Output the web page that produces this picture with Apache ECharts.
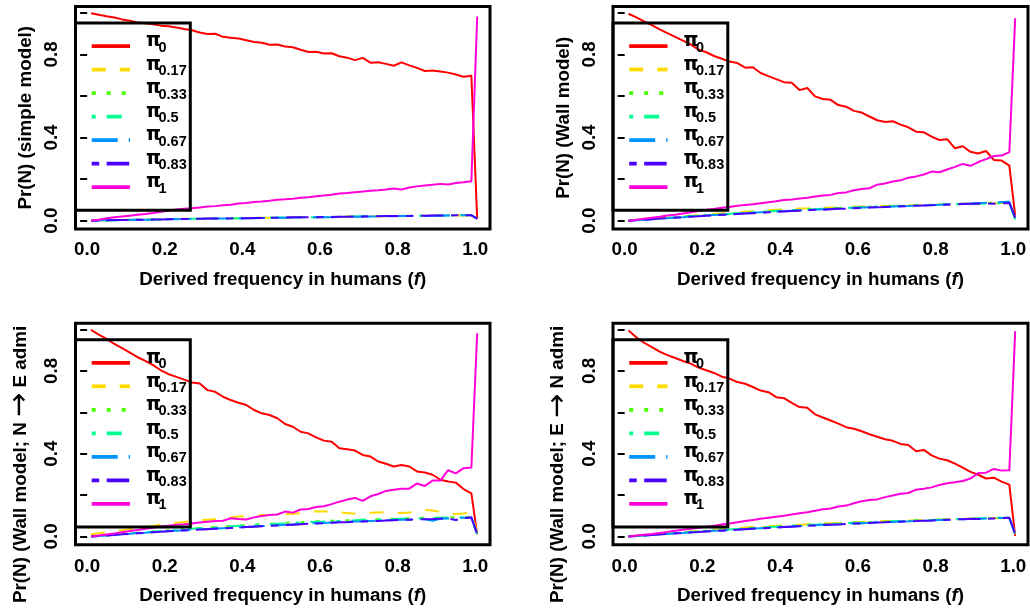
<!DOCTYPE html>
<html>
<head>
<meta charset="utf-8">
<script src="https://cdn.jsdelivr.net/npm/echarts@6/dist/echarts.min.js"></script>
<style>
  html, body { margin: 0; padding: 0; background: #fff; }
  #chart { width: 1030px; height: 611px; }
</style>
</head>
<body>
<div id="chart"></div>
<script>
// Derived allele frequency in humans (f)
const freq = [
  0.01,0.03,0.05,0.07,0.09,0.11,0.13,0.15,0.17,0.19,
  0.21,0.23,0.25,0.27,0.29,0.31,0.33,0.35,0.37,0.39,
  0.41,0.43,0.45,0.47,0.49,0.51,0.53,0.55,0.57,0.59,
  0.61,0.63,0.65,0.67,0.69,0.71,0.73,0.75,0.77,0.79,
  0.81,0.83,0.85,0.87,0.89,0.91,0.93,0.95,0.97,0.99,
  1.005
];

// Tick values
const xTicks = [0, 0.2, 0.4, 0.6, 0.8, 1.0];
const yTicks = [0, 0.2, 0.4, 0.6, 0.8, 1.0];
const yTickLabels = [0, 0.4, 0.8];

// Legend subscripts (admixture proportion pi)
const piLevels = ['0', '0.17', '0.33', '0.5', '0.67', '0.83', '1'];

// ---- Panel 1: simple model ----
const simple_pi0 = [
  .998,.990,.983,.977,.968,.962,.953,.949,.944,.938,
  .935,.929,.922,.916,.905,.898,.899,.884,.880,.876,
  .868,.859,.856,.846,.847,.838,.834,.822,.811,.812,
  .804,.805,.791,.784,.772,.783,.760,.762,.754,.745,
  .761,.747,.735,.720,.722,.717,.712,.703,.692,.697,
  .008];
const simple_pi017 = [
  .000,.001,.002,.003,.004,.004,.005,.006,.006,.007,
  .008,.008,.009,.009,.010,.010,.011,.011,.012,.012,
  .013,.013,.014,.014,.015,.015,.016,.016,.017,.017,
  .018,.018,.019,.019,.020,.020,.021,.021,.021,.022,
  .022,.023,.023,.024,.024,.024,.025,.025,.025,.024,
  .010];
const simple_pi033 = [
  .000,.001,.002,.003,.003,.004,.005,.005,.006,.007,
  .007,.008,.008,.009,.009,.010,.011,.011,.012,.012,
  .013,.013,.014,.014,.015,.015,.016,.016,.017,.018,
  .018,.019,.019,.020,.020,.021,.021,.022,.022,.023,
  .023,.024,.024,.025,.025,.026,.026,.026,.027,.027,
  .012];
const simple_pi05 = [
  .000,.001,.001,.002,.003,.004,.004,.005,.006,.006,
  .007,.008,.008,.009,.009,.010,.010,.011,.011,.012,
  .012,.013,.014,.014,.015,.015,.016,.016,.017,.017,
  .018,.018,.019,.019,.020,.021,.021,.021,.022,.022,
  .023,.023,.024,.024,.025,.025,.026,.026,.027,.027,
  .011];
const simple_pi067 = [
  .000,.001,.002,.002,.003,.004,.004,.005,.005,.006,
  .007,.007,.008,.008,.009,.009,.010,.010,.011,.011,
  .012,.012,.013,.013,.014,.014,.015,.015,.016,.016,
  .017,.017,.018,.018,.019,.019,.020,.020,.021,.021,
  .022,.022,.023,.023,.024,.024,.025,.025,.026,.027,
  .009];
const simple_pi083 = [
  .000,.001,.002,.003,.003,.004,.005,.005,.006,.006,
  .007,.008,.008,.009,.009,.010,.010,.011,.011,.012,
  .012,.013,.013,.014,.014,.015,.016,.016,.017,.017,
  .018,.018,.019,.019,.020,.020,.021,.021,.022,.022,
  .023,.023,.024,.024,.025,.025,.025,.026,.026,.026,
  .010];
const simple_pi1 = [
  .000,.005,.012,.016,.020,.024,.028,.032,.037,.043,
  .049,.054,.057,.060,.063,.068,.070,.074,.077,.083,
  .085,.090,.092,.096,.101,.103,.106,.110,.113,.118,
  .121,.125,.131,.133,.137,.140,.144,.146,.150,.155,
  .150,.160,.165,.169,.173,.177,.174,.181,.185,.190,
  .982];

// ---- Panel 2: Wall model ----
const wall_pi0 = [
  .995,.978,.958,.940,.920,.902,.884,.866,.848,.823,
  .810,.792,.779,.765,.758,.736,.738,.710,.695,.681,
  .666,.663,.628,.638,.598,.585,.581,.556,.548,.528,
  .520,.501,.483,.475,.478,.462,.449,.428,.425,.404,
  .388,.392,.348,.358,.331,.323,.335,.292,.289,.265,
  .024];
const wall_pi017 = [
  .000,.003,.006,.009,.012,.015,.018,.021,.024,.027,
  .030,.032,.035,.037,.040,.043,.045,.047,.050,.052,
  .054,.056,.058,.059,.061,.062,.063,.064,.066,.067,
  .068,.069,.070,.071,.072,.073,.074,.075,.076,.077,
  .078,.079,.080,.081,.082,.083,.084,.083,.085,.086,
  .012];
const wall_pi033 = [
  .000,.003,.006,.008,.011,.014,.017,.020,.022,.025,
  .027,.030,.032,.034,.037,.039,.041,.043,.045,.047,
  .049,.051,.053,.055,.057,.058,.060,.061,.063,.064,
  .066,.067,.068,.070,.071,.072,.074,.075,.076,.077,
  .078,.080,.081,.082,.083,.084,.085,.086,.086,.088,
  .008];
const wall_pi05 = [
  .000,.003,.005,.008,.011,.013,.016,.019,.021,.024,
  .026,.029,.031,.033,.036,.038,.040,.042,.044,.046,
  .048,.050,.052,.054,.055,.057,.059,.060,.062,.063,
  .065,.066,.068,.069,.070,.071,.073,.074,.075,.076,
  .077,.078,.079,.080,.081,.082,.083,.084,.085,.086,
  .005];
const wall_pi067 = [
  .000,.002,.005,.007,.010,.012,.015,.017,.020,.022,
  .025,.027,.029,.031,.034,.036,.038,.040,.042,.044,
  .046,.048,.050,.051,.053,.055,.056,.058,.060,.061,
  .063,.064,.066,.067,.068,.070,.071,.073,.074,.076,
  .077,.079,.080,.082,.083,.085,.086,.088,.090,.091,
  .015];
const wall_pi083 = [
  .000,.002,.005,.007,.010,.012,.014,.017,.019,.021,
  .024,.026,.028,.030,.032,.034,.036,.038,.040,.042,
  .044,.046,.048,.050,.052,.053,.055,.057,.058,.060,
  .061,.063,.064,.066,.067,.069,.070,.072,.073,.074,
  .076,.077,.078,.080,.081,.082,.083,.082,.084,.085,
  .013];
const wall_pi1 = [
  .000,.004,.009,.014,.019,.025,.029,.035,.041,.047,
  .052,.056,.062,.066,.072,.076,.079,.084,.089,.093,
  .099,.102,.107,.110,.116,.121,.124,.133,.136,.146,
  .152,.156,.173,.179,.188,.194,.207,.213,.222,.236,
  .233,.246,.259,.273,.264,.282,.296,.311,.313,.330,
  .974];

// ---- Panel 3: Wall model, N -> E admixture ----
const ne_pi0 = [
  .998,.975,.955,.930,.910,.888,.866,.848,.828,.803,
  .784,.771,.758,.744,.739,.707,.699,.675,.659,.646,
  .635,.611,.595,.587,.571,.543,.530,.506,.498,.479,
  .463,.458,.426,.421,.415,.394,.386,.362,.351,.338,
  .345,.338,.314,.309,.298,.274,.265,.260,.229,.208,
  .010];
const ne_pi017 = [
  .010,.015,.020,.025,.030,.035,.040,.046,.051,.057,
  .062,.066,.070,.074,.078,.081,.084,.088,.092,.096,
  .098,.100,.103,.104,.105,.107,.110,.112,.118,.121,
  .122,.120,.117,.113,.110,.111,.114,.116,.117,.116,
  .113,.116,.124,.128,.125,.118,.110,.108,.111,.115,
  .018];
const ne_pi033 = [
  .000,.003,.006,.009,.012,.015,.018,.021,.024,.027,
  .030,.033,.035,.038,.041,.043,.046,.048,.050,.052,
  .055,.057,.059,.061,.063,.066,.068,.069,.071,.073,
  .074,.076,.077,.078,.080,.081,.082,.083,.084,.086,
  .087,.088,.089,.090,.090,.091,.092,.093,.094,.096,
  .010];
const ne_pi05 = [
  .000,.003,.006,.008,.011,.014,.017,.020,.023,.026,
  .029,.031,.034,.037,.039,.042,.044,.046,.049,.051,
  .053,.055,.057,.059,.061,.063,.065,.067,.069,.071,
  .072,.074,.075,.077,.078,.080,.081,.082,.083,.084,
  .085,.086,.087,.088,.089,.090,.091,.092,.093,.094,
  .008];
const ne_pi067 = [
  .000,.002,.005,.008,.010,.013,.016,.018,.021,.023,
  .026,.028,.030,.032,.034,.036,.038,.040,.042,.044,
  .046,.048,.050,.052,.054,.056,.058,.060,.062,.064,
  .065,.067,.069,.070,.072,.073,.075,.076,.078,.079,
  .080,.081,.082,.083,.076,.085,.087,.088,.090,.092,
  .010];
const ne_pi083 = [
  .000,.002,.005,.007,.010,.012,.015,.017,.020,.022,
  .025,.027,.029,.031,.033,.035,.037,.039,.041,.043,
  .045,.047,.049,.051,.053,.055,.057,.059,.061,.063,
  .064,.066,.068,.069,.071,.072,.074,.075,.077,.078,
  .080,.081,.082,.083,.084,.086,.087,.079,.089,.091,
  .012];
const ne_pi1 = [
  .000,.004,.009,.014,.020,.026,.031,.037,.042,.048,
  .052,.056,.059,.063,.067,.071,.074,.076,.088,.084,
  .082,.092,.099,.103,.106,.120,.115,.130,.133,.142,
  .146,.156,.168,.178,.186,.172,.194,.205,.220,.226,
  .230,.231,.256,.244,.270,.270,.320,.305,.330,.333,
  .982];

// ---- Panel 4: Wall model, E -> N admixture ----
const en_pi0 = [
  .995,.962,.936,.915,.893,.876,.862,.848,.835,.816,
  .803,.790,.772,.763,.746,.738,.722,.705,.697,.673,
  .668,.645,.625,.622,.590,.575,.560,.545,.528,.520,
  .508,.494,.482,.470,.462,.447,.442,.412,.418,.392,
  .376,.368,.352,.332,.312,.298,.280,.284,.265,.250,
  .002];
const en_pi017 = [
  .000,.003,.006,.009,.012,.015,.018,.021,.024,.027,
  .030,.033,.035,.038,.040,.043,.045,.047,.049,.051,
  .053,.055,.057,.059,.061,.063,.064,.066,.067,.069,
  .070,.071,.073,.074,.075,.076,.077,.078,.080,.081,
  .082,.083,.084,.085,.086,.087,.088,.089,.088,.090,
  .012];
const en_pi033 = [
  .000,.003,.006,.008,.011,.014,.017,.019,.022,.025,
  .028,.030,.033,.035,.037,.040,.042,.044,.046,.048,
  .050,.052,.054,.056,.058,.060,.062,.063,.065,.066,
  .068,.069,.070,.072,.073,.074,.076,.077,.078,.079,
  .080,.082,.083,.084,.085,.086,.087,.088,.089,.091,
  .008];
const en_pi05 = [
  .000,.003,.005,.008,.011,.013,.016,.019,.021,.024,
  .026,.029,.031,.034,.036,.038,.040,.043,.045,.047,
  .049,.051,.053,.055,.057,.059,.061,.062,.064,.066,
  .067,.069,.070,.071,.073,.074,.075,.077,.078,.079,
  .080,.081,.083,.084,.085,.087,.088,.090,.091,.093,
  .006];
const en_pi067 = [
  .000,.002,.005,.007,.010,.012,.015,.017,.020,.022,
  .025,.027,.029,.032,.034,.036,.038,.040,.042,.044,
  .046,.048,.050,.052,.054,.056,.058,.059,.061,.063,
  .064,.066,.067,.069,.070,.072,.073,.075,.076,.077,
  .079,.080,.081,.083,.084,.085,.087,.088,.089,.090,
  .014];
const en_pi083 = [
  .000,.002,.004,.007,.009,.012,.014,.017,.019,.021,
  .024,.026,.028,.030,.032,.035,.037,.039,.041,.043,
  .045,.047,.049,.051,.053,.055,.057,.058,.060,.062,
  .063,.065,.067,.068,.070,.071,.073,.074,.076,.077,
  .079,.080,.082,.083,.086,.084,.085,.087,.089,.090,
  .011];
const en_pi1 = [
  .000,.004,.008,.012,.017,.022,.027,.032,.037,.042,
  .047,.052,.058,.062,.068,.074,.079,.085,.090,.095,
  .100,.106,.112,.117,.124,.131,.135,.145,.149,.160,
  .170,.176,.179,.190,.198,.206,.210,.226,.230,.237,
  .249,.257,.262,.268,.280,.306,.308,.326,.318,.320,
  .992];

const panelSeries = [
  [simple_pi0, simple_pi017, simple_pi033, simple_pi05, simple_pi067, simple_pi083, simple_pi1],
  [wall_pi0, wall_pi017, wall_pi033, wall_pi05, wall_pi067, wall_pi083, wall_pi1],
  [ne_pi0, ne_pi017, ne_pi033, ne_pi05, ne_pi067, ne_pi083, ne_pi1],
  [en_pi0, en_pi017, en_pi033, en_pi05, en_pi067, en_pi083, en_pi1]
];

// R rainbow(7) palette and line types 1..6, 1
const colors = ['#FF0000', '#FFDB00', '#49FF00', '#00FF92', '#0092FF', '#4900FF', '#FF00DB'];
const dashes = [null, [14, 14], [4, 11], [4, 11, 15, 11], [26, 11], [7.5, 7.5, 22.5, 7.5], null];

// Plot boxes (pixel layout)
const boxes = [
  { l: 75.5, t: 6.5,   w: 414.5, h: 222.5 },
  { l: 613,  t: 6.5,   w: 415,   h: 222.5 },
  { l: 75.5, t: 323.3, w: 414.5, h: 221.4 },
  { l: 613,  t: 323.3, w: 415,   h: 221.4 }
];

const FONT = "'Liberation Sans', Arial, Helvetica, sans-serif";
const SYMFONT = "'DejaVu Sans', 'Liberation Sans', sans-serif";
const FS = 18.8;
const txt = { fontFamily: FONT, fontSize: FS, fontWeight: 'bold', color: '#000' };

// y-axis titles; the lower ones run past the top of their panel and are cut there
const yTitles = [
  '{a|Pr(N) (simple model)}',
  '{a|Pr(N) (Wall model)}',
  '{a|Pr(N) (Wall model; N }{r|\u2192}{a| E admi}',
  '{a|Pr(N) (Wall model; E }{r|\u2192}{a| N admi}'
];

const grids = [], xAxes = [], yAxes = [], series = [], graphics = [];

boxes.forEach((b, p) => {
  grids.push({
    left: b.l, top: b.t, width: b.w, height: b.h,
    show: true, borderColor: '#000', borderWidth: 3,
    backgroundColor: 'transparent', containLabel: false, outerBoundsMode: 'none'
  });
  xAxes.push({
    type: 'value', gridIndex: p, min: -0.03, max: 1.038,
    axisLine: { show: false },
    splitLine: { show: false },
    axisTick: { show: false },
    axisLabel: {
      customValues: xTicks, margin: p < 2 ? 11 : 13, color: '#000',
      fontFamily: FONT, fontSize: FS, fontWeight: 'bold',
      formatter: v => v.toFixed(1)
    },
    name: '{a|Derived frequency in humans (}{b|f}{a|)}',
    nameLocation: 'middle', nameGap: p < 2 ? 41 : 42,
    nameTextStyle: {
      rich: {
        a: txt,
        b: Object.assign({}, txt, { fontStyle: 'italic' })
      }
    }
  });
  yAxes.push({
    type: 'value', gridIndex: p, min: -0.04, max: 1.03,
    axisLine: { show: false },
    splitLine: { show: false },
    axisTick: { show: true, customValues: yTicks, length: 7, lineStyle: { color: '#000', width: 2 } },
    axisLabel: {
      customValues: yTickLabels, rotate: 90, margin: 14, color: '#000',
      fontFamily: FONT, fontSize: FS, fontWeight: 'bold',
      formatter: v => v.toFixed(1)
    },
    name: p < 2 ? yTitles[p] : '',
    nameLocation: 'middle', nameGap: 40,
    nameTextStyle: { rich: { a: txt } }
  });

  panelSeries[p].forEach((vals, s) => {
    series.push({
      type: 'line', xAxisIndex: p, yAxisIndex: p,
      data: vals.map((v, i) => [freq[i], v]),
      symbol: 'none', showSymbol: false, silent: true, animation: false,
      lineStyle: { color: colors[s], width: 2, type: dashes[s] || 'solid', cap: 'butt', join: 'round' },
      z: 2
    });
  });

  if (p >= 2) {
    graphics.push({
      type: 'text', x: b.l - 40.3, y: 603, rotation: Math.PI / 2, silent: true,
      style: {
        text: yTitles[p], align: 'left', verticalAlign: 'bottom',
        rich: {
          a: { fill: '#000', font: 'bold ' + FS + 'px ' + FONT },
          r: { fill: '#000', font: 'normal 29px ' + SYMFONT }
        }
      }
    });
  }

  // legend box
  const lt = b.t + 16.5;
  graphics.push({
    type: 'rect', silent: true, z: 10,
    shape: { x: b.l, y: lt, width: 114.8, height: 187.3 },
    style: { fill: 'none', stroke: '#000', lineWidth: 3 }
  });
  piLevels.forEach((lev, i) => {
    const ry = lt + 23 + i * 23.5;
    graphics.push({
      type: 'line', silent: true, z: 10,
      shape: { x1: b.l + 16.2, y1: ry, x2: b.l + 54.5, y2: ry },
      style: { stroke: colors[i], lineWidth: 3.75, lineDash: dashes[i], lineCap: 'butt' }
    });
    graphics.push({
      type: 'text', silent: true, z: 10, x: b.l + 70.5, y: ry - 4.5,
      style: { text: '\u03C0', fill: '#000', align: 'left', verticalAlign: 'middle',
               font: 'bold 19px ' + SYMFONT }
    });
    graphics.push({
      type: 'text', silent: true, z: 10, x: b.l + 83, y: ry + 1.5,
      style: { text: lev, fill: '#000', align: 'left', verticalAlign: 'middle',
               font: 'bold 14.5px ' + FONT }
    });
  });
});

const chart = echarts.init(document.getElementById('chart'), null, { renderer: 'canvas' });
chart.setOption({
  backgroundColor: '#fff',
  animation: false,
  grid: grids,
  xAxis: xAxes,
  yAxis: yAxes,
  series: series,
  graphic: { elements: graphics }
});
</script>
</body>
</html>
